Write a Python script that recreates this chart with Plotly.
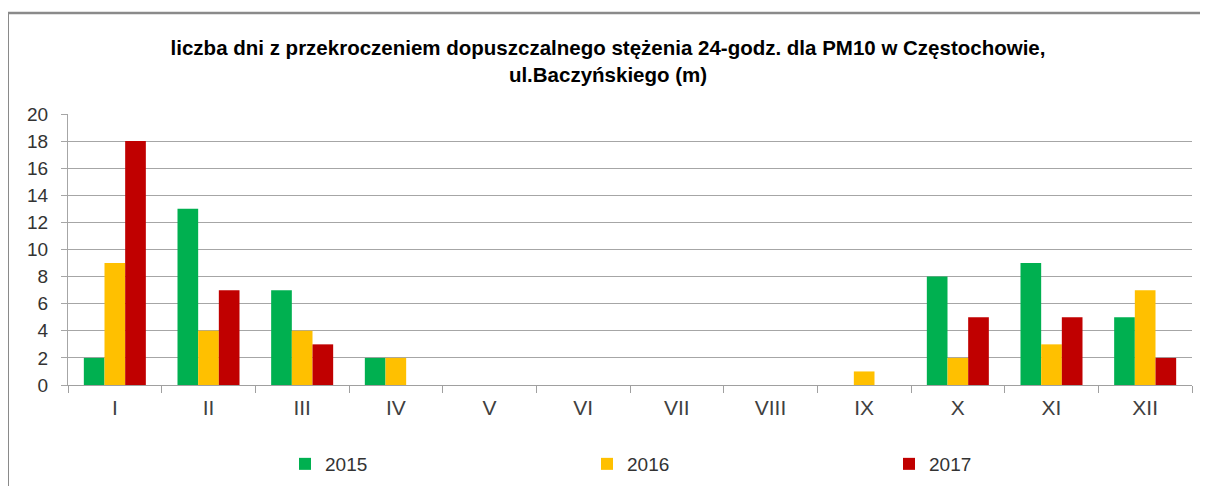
import plotly.graph_objects as go

months = ["I", "II", "III", "IV", "V", "VI", "VII", "VIII", "IX", "X", "XI", "XII"]
v2015 = [2, 13, 7, 2, 0, 0, 0, 0, 0, 8, 9, 5]
v2016 = [9, 4, 4, 2, 0, 0, 0, 0, 1, 2, 3, 7]
v2017 = [18, 7, 3, 0, 0, 0, 0, 0, 0, 5, 5, 2]
series_names = ["2015", "2016", "2017"]
series_colors = ["#00B050", "#FFC000", "#C00000"]
title_text = ("liczba dni z przekroczeniem dopuszczalnego stężenia 24-godz. dla PM10 w Częstochowie,"
              "<br>ul.Baczyńskiego (m)")
y_ticks = list(range(0, 21, 2))

# page body has an 8px margin; work in screen pixels and convert
OFF = 8
W, H = 1208 - OFF, 486 - OFF
L, R, T, B = 68 - OFF, 16, 114 - OFF, 486 - 385
pw, ph = W - L - R, H - T - B


def px_x(p):  # screen px -> paper x
    return (p - OFF - L) / pw


def px_y(p):  # screen px -> paper y
    return (H - B - (p - OFF)) / ph


fig = go.Figure()
for name, vals, col in zip(series_names, [v2015, v2016, v2017], series_colors):
    fig.add_trace(go.Bar(x=months, y=vals, name=name, marker=dict(color=col, line=dict(width=0))))

fig.update_layout(
    width=W, height=H,
    margin=dict(l=L, r=R, t=T, b=B),
    paper_bgcolor="white", plot_bgcolor="white",
    barmode="group", bargap=0.338, bargroupgap=0,
    font=dict(family="Liberation Sans, Arial, sans-serif", color="#333333"),
    title=dict(text=title_text, x=0.5, xref="container", xanchor="center",
               y=1 - 47 / H, yref="container", yanchor="middle",
               font=dict(size=20.5, color="#000000", family="Liberation Sans, Arial, sans-serif", weight="bold")),
    showlegend=True,
    legend=dict(orientation="h", xref="container", x=(277) / W, xanchor="left",
                yref="container", y=1 - (464 - OFF) / H, yanchor="middle",
                entrywidth=257, entrywidthmode="pixels", itemwidth=30,
                font=dict(size=19, color="#333333"), bgcolor="rgba(0,0,0,0)", traceorder="normal"),
    xaxis=dict(showgrid=False, showline=True, linecolor="#a0a0a0", linewidth=1,
               ticks="outside", tickson="boundaries", ticklen=7, tickcolor="#a0a0a0",
               ticklabelstandoff=4,
               tickfont=dict(size=21, color="#404040"), fixedrange=True),
    yaxis=dict(range=[0, 20], tickvals=y_ticks, showgrid=True, gridcolor="#a6a6a6", gridwidth=1,
               showline=True, linecolor="#a6a6a6", linewidth=1, ticks="outside", ticklen=6,
               tickcolor="#a6a6a6", tickfont=dict(size=19, color="#333333"),
               ticklabelstandoff=9, zeroline=False, fixedrange=True),
    shapes=[
        dict(type="line", xref="paper", yref="paper", x0=px_x(8), x1=px_x(8), y0=px_y(13), y1=px_y(500),
             line=dict(color="#8a8a8a", width=2)),
        dict(type="line", xref="paper", yref="paper", x0=px_x(7), x1=px_x(1215), y0=px_y(13), y1=px_y(13),
             line=dict(color="#8a8a8a", width=2.5)),
    ],
)

fig.write_html("out.html")
